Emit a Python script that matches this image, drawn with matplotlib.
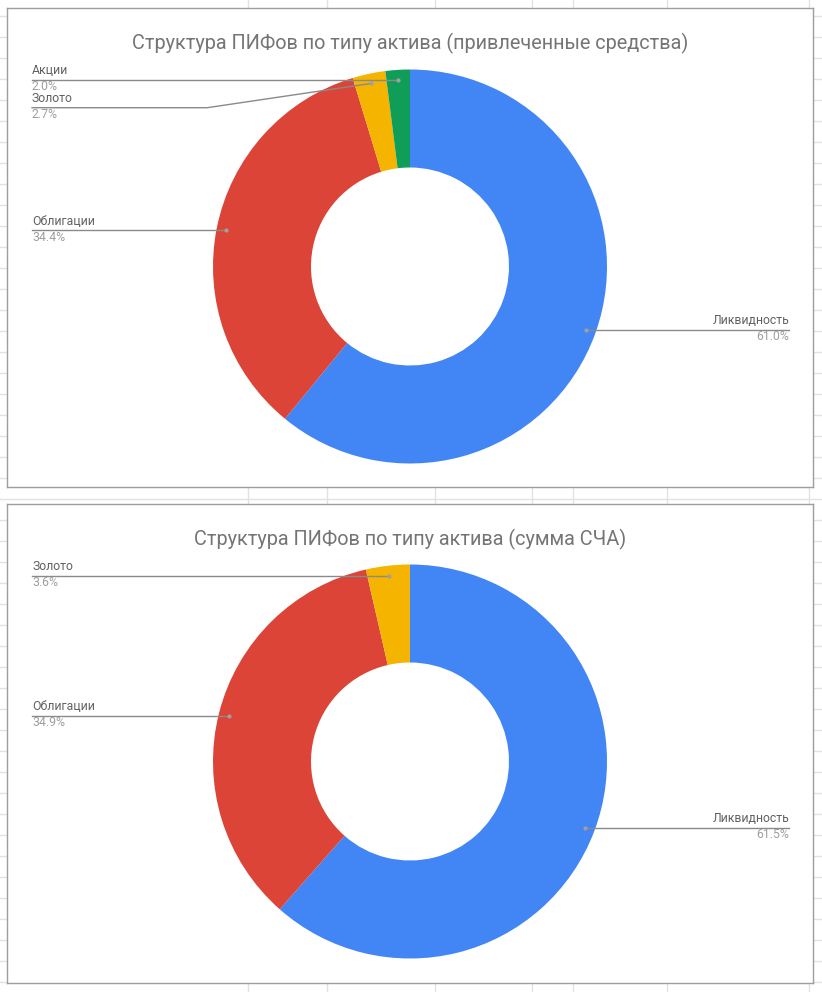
import numpy as np
import matplotlib.pyplot as plt

plt.rcParams['font.family'] = ['Roboto', 'DejaVu Sans']

# данные
titles = ['Структура ПИФов по типу актива (привлеченные средства)',
          'Структура ПИФов по типу актива (сумма СЧА)']
labels_1 = ['Ликвидность', 'Облигации', 'Золото', 'Акции']
values_1 = [61.0, 34.4, 2.7, 2.0]
labels_2 = ['Ликвидность', 'Облигации', 'Золото']
values_2 = [61.5, 34.9, 3.6]

colors = {'Ликвидность': '#4285F4', 'Облигации': '#DB4437',
          'Золото': '#F4B400', 'Акции': '#0F9D58'}

W, H = 822, 992
R = 197
fig = plt.figure(figsize=(W / 100, H / 100), dpi=100)

# фон "таблицы"
bg = fig.add_axes([0, 0, 1, 1])
bg.set_xlim(0, W)
bg.set_ylim(H, 0)
bg.axis('off')
for y in range(16, H, 21):
    bg.axhline(y, color='#e2e2e2', lw=1)
for x in [248, 327, 435, 532, 573, 667, 809]:
    bg.axvline(x, color='#e2e2e2', lw=1)


def donut(top, bottom, cx, cy, title, labels, values):
    ax = fig.add_axes([7 / W, (H - bottom) / H, 806 / W, (bottom - top) / H])
    wedges, _ = ax.pie(values, colors=[colors[l] for l in labels], startangle=90,
                       counterclock=False, radius=R,
                       wedgeprops=dict(width=98, linewidth=0))
    ax.set_xlim(7 - cx, 813 - cx)
    ax.set_ylim(cy - bottom, cy - top)
    ax.set_frame_on(True)
    for s in ax.spines.values():
        s.set_color('#9e9e9e')
        s.set_linewidth(1)
    ax.set_facecolor('white')
    ax.text(0.5, 1 - (35.5 / (bottom - top)), title, transform=ax.transAxes,
            ha='center', va='center', fontsize=14.3, color='#757575')

    items = []
    for w, lab, v in zip(wedges, labels, values):
        mid = np.deg2rad((w.theta1 + w.theta2) / 2)
        dx, dy = 0.95 * R * np.cos(mid), 0.95 * R * np.sin(mid)
        items.append((lab, v, dx, dy))

    left = sorted([i for i in items if i[2] < 0], key=lambda i: -i[3])
    right = [i for i in items if i[2] >= 0]
    prev = None
    for lab, pct, dx, dy in left:
        ly = dy if prev is None else min(dy, prev - 28)
        prev = ly
        xl = 32 - cx
        if abs(ly - dy) > 4:
            xs, ys = [xl, -R * 1.03, dx], [ly, ly, dy]
        else:
            xs, ys = [xl, dx], [ly, dy]
        ax.plot(xs, ys, color='#8a8a8a', lw=1)
        ax.plot(dx, dy, 'o', ms=3, color='#a0a0a0', mec='none')
        ax.text(xl, ly + 2.5, lab, ha='left', va='bottom', fontsize=8.8, color='#616161')
        ax.text(xl, ly - 0.5, f'{pct:.1f}%', ha='left', va='top', fontsize=8.8, color='#9e9e9e')
    for lab, pct, dx, dy in right:
        xr = 789 - cx
        ax.plot([dx, xr], [dy, dy], color='#8a8a8a', lw=1)
        ax.plot(dx, dy, 'o', ms=3, color='#a0a0a0', mec='none')
        ax.text(xr, dy + 2.5, lab, ha='right', va='bottom', fontsize=8.8, color='#616161')
        ax.text(xr, dy - 0.5, f'{pct:.1f}%', ha='right', va='top', fontsize=8.8, color='#9e9e9e')


donut(8, 487, 410, 266.5, titles[0], labels_1, values_1)
donut(504, 983, 410, 761.5, titles[1], labels_2, values_2)

fig.savefig('out.png', dpi=100, facecolor='white')
